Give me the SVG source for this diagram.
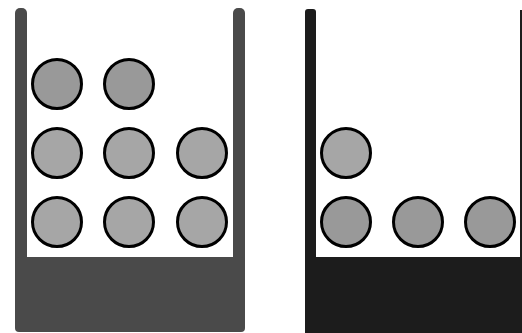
<svg xmlns="http://www.w3.org/2000/svg" width="522" height="333" viewBox="0 0 522 333">
<style>
.ball{stroke:#000;stroke-width:3}
.dk{fill:#999999}
.lt{fill:#a6a6a6}
.c1{fill:#4a4a4a}
.c2{fill:#1c1c1c}
</style>
<rect width="522" height="333" fill="#fff"/>
<g id="container-left">
<rect class="c1" x="15" y="8" width="12" height="320" rx="5"/>
<rect class="c1" x="233" y="8" width="12" height="320" rx="5"/>
<rect class="c1" x="15" y="257" width="230" height="75" rx="4"/>
</g>
<g id="container-right">
<rect class="c2" x="305" y="9" width="11" height="320" rx="3"/>
<rect class="c2" x="520" y="10" width="6" height="320"/>
<rect class="c2" x="305" y="257" width="222" height="77"/>
</g>
<g id="balls-left">
<circle class="ball dk" cx="57" cy="84" r="24.5"/>
<circle class="ball dk" cx="129" cy="84" r="24.5"/>
<circle class="ball lt" cx="57" cy="153" r="24.5"/>
<circle class="ball lt" cx="129" cy="153" r="24.5"/>
<circle class="ball lt" cx="202" cy="153" r="24.5"/>
<circle class="ball lt" cx="57" cy="222" r="24.5"/>
<circle class="ball lt" cx="129" cy="222" r="24.5"/>
<circle class="ball lt" cx="202" cy="222" r="24.5"/>
</g>
<g id="balls-right">
<circle class="ball lt" cx="346" cy="153" r="24.5"/>
<circle class="ball dk" cx="346" cy="222" r="24.5"/>
<circle class="ball dk" cx="418" cy="222" r="24.5"/>
<circle class="ball dk" cx="490" cy="222" r="24.5"/>
</g>
</svg>
